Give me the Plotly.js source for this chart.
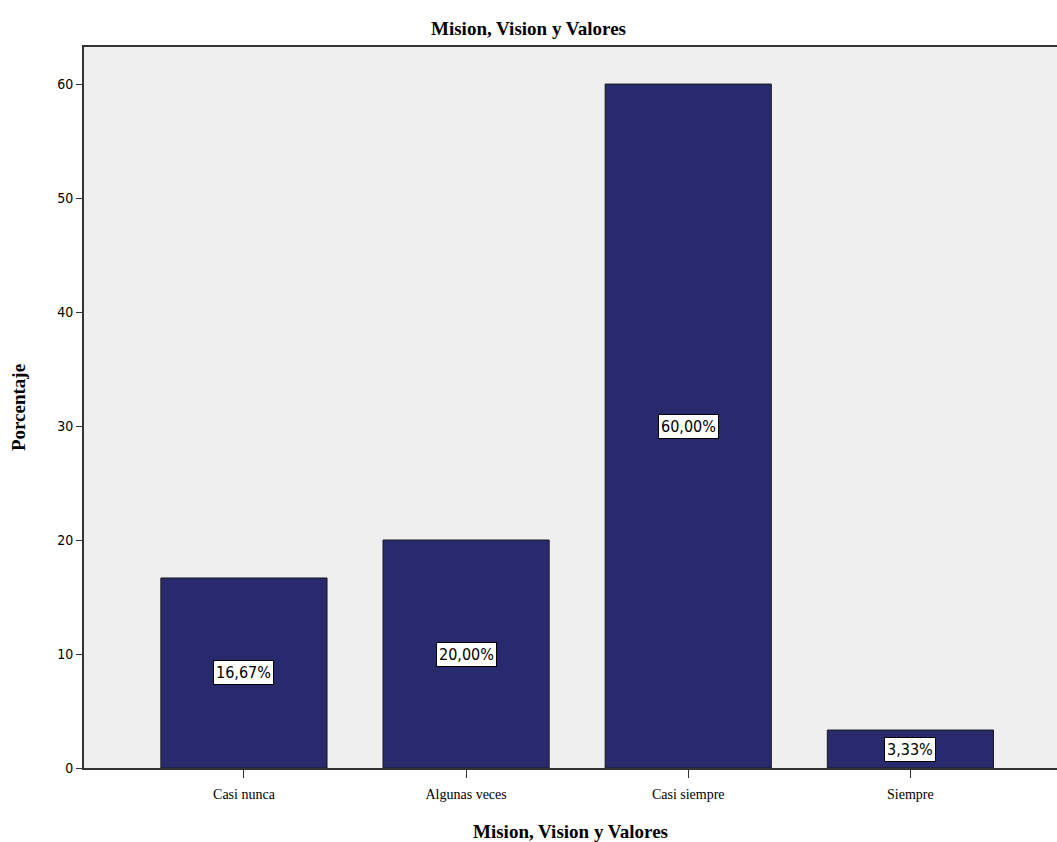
<!DOCTYPE html>
<html>
<head>
<meta charset="utf-8">
<script src="https://cdn.plot.ly/plotly-3.0.1.min.js"></script>
<style>html,body{margin:0;padding:0;background:#fff;}#chart{width:1057px;height:842px;}</style>
</head>
<body>
<div id="chart"></div>
<script>
var categories = ["Casi nunca", "Algunas veces", "Casi siempre", "Siempre"];
var percentages = [16.67, 20.00, 60.00, 3.33];
var labels = ["16,67%", "20,00%", "60,00%", "3,33%"];
var yTickVals = [0, 10, 20, 30, 40, 50, 60];

var trace = {
  type: "bar",
  x: categories,
  y: percentages,
  width: 0.748,
  marker: {color: "#29296e", line: {color: "#1a1a1a", width: 1}},
  hoverinfo: "none"
};

var annotations = categories.map(function(c, i) {
  return {
    x: c, y: percentages[i] / 2, xref: "x", yref: "y",
    text: labels[i], showarrow: false,
    bgcolor: "#ffffff", bordercolor: "#000000", borderwidth: 1, borderpad: 2,
    font: {family: "DejaVu Sans Condensed, DejaVu Sans", size: 16, color: "#000"}
  };
});

var layout = {
  width: 1057, height: 842,
  margin: {l: 84, r: 0, t: 47, b: 74},
  paper_bgcolor: "#ffffff",
  plot_bgcolor: "#efefef",
  showlegend: false,
  title: {
    text: "<b>Mision, Vision y Valores</b>",
    x: 0.5, xanchor: "center", y: 0.966, yanchor: "middle",
    font: {family: "Liberation Serif, DejaVu Serif", size: 19, color: "#000"}
  },
  xaxis: {
    type: "category",
    range: [-0.72, 3.66],
    showline: true, linecolor: "#333", linewidth: 2, mirror: true,
    ticks: "outside", ticklen: 8, tickcolor: "#333", tickwidth: 1,
    ticklabelstandoff: 4,
    showgrid: false, zeroline: false,
    tickfont: {family: "Liberation Serif, DejaVu Serif", size: 14, color: "#000"},
    title: {text: "<b>Mision, Vision y Valores</b>", standoff: 24,
      font: {family: "Liberation Serif, DejaVu Serif", size: 19, color: "#000"}}
  },
  yaxis: {
    range: [0, 63.25],
    tickvals: yTickVals,
    showline: true, linecolor: "#333", linewidth: 2,
    ticks: "outside", ticklen: 6, tickcolor: "#333", tickwidth: 1,
    showgrid: false, zeroline: false,
    tickfont: {family: "DejaVu Sans Condensed, DejaVu Sans", size: 14, color: "#000"},
    title: {text: "<b>Porcentaje</b>", standoff: 27,
      font: {family: "Liberation Serif, DejaVu Serif", size: 19, color: "#000"}}
  },
  annotations: annotations
};

Plotly.newPlot("chart", [trace], layout, {displayModeBar: false, staticPlot: true});
</script>
</body>
</html>
